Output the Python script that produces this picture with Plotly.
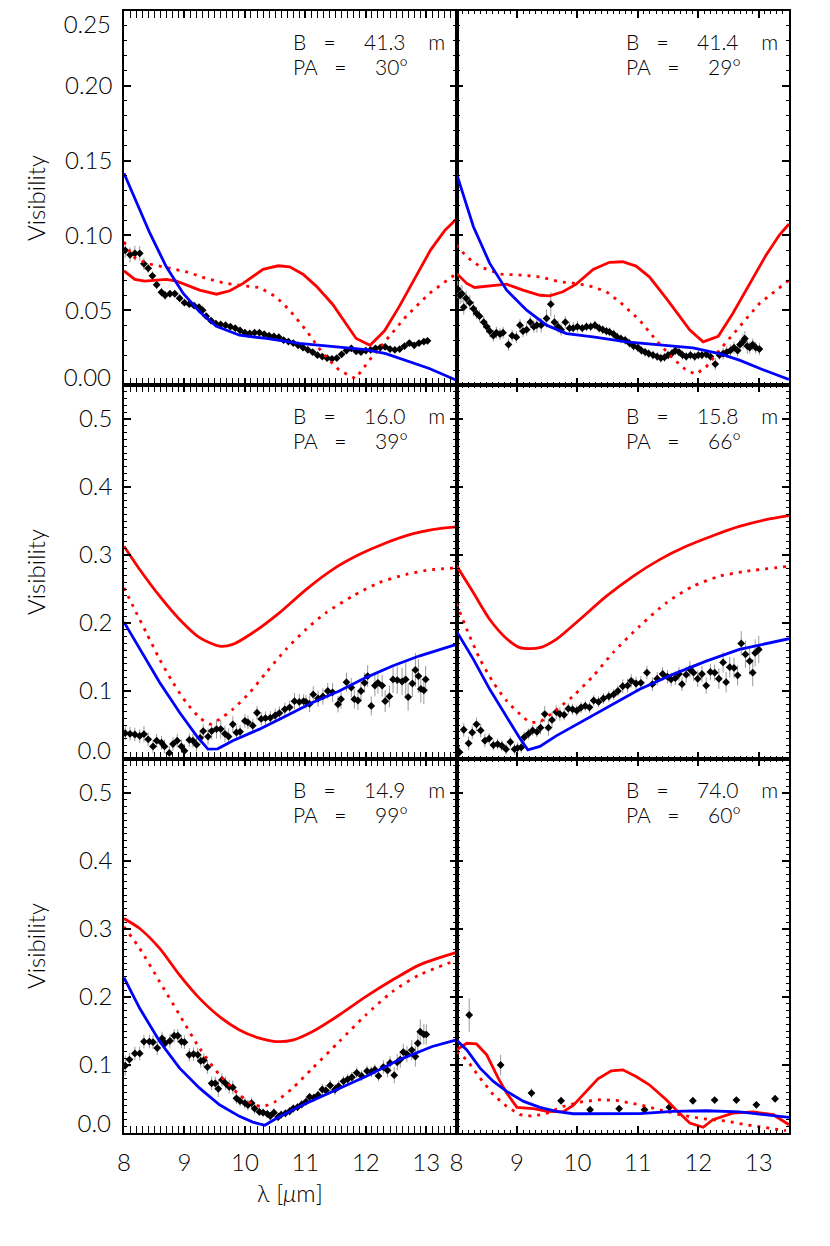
import plotly.graph_objects as go
from plotly.subplots import make_subplots

# ---- model curves (lambda [um], visibility) ----
tl_red = [(8.0, 0.0763), (8.18, 0.0706), (8.34, 0.0694), (8.70, 0.0706), (8.87, 0.0694), (9.25, 0.0634),
          (9.53, 0.0607), (9.75, 0.063), (9.97, 0.0679), (10.3, 0.0773), (10.55, 0.0797), (10.74, 0.079),
          (10.96, 0.0741), (11.18, 0.0661), (11.45, 0.054), (11.84, 0.0311), (12.07, 0.0266), (12.31, 0.0362),
          (12.55, 0.0522), (12.82, 0.0723), (13.07, 0.0902), (13.31, 0.1035), (13.5, 0.111)]
tl_dot = [(8.0, 0.0957), (8.15, 0.0857), (8.37, 0.0813), (8.70, 0.0786), (9.03, 0.0757), (9.36, 0.0712),
          (9.69, 0.0679), (10.02, 0.0661), (10.24, 0.0652), (10.51, 0.059), (10.74, 0.050), (11.01, 0.0367),
          (11.29, 0.021), (11.56, 0.0099), (11.83, 0.0043), (12.06, 0.0166), (12.33, 0.030), (12.66, 0.0456),
          (13.05, 0.0612), (13.5, 0.0746)]
tl_blue = [(8.0, 0.1415), (8.21, 0.1214), (8.43, 0.1013), (8.70, 0.079), (8.98, 0.0612), (9.25, 0.0489),
           (9.53, 0.0393), (9.91, 0.0333), (10.35, 0.0311), (10.90, 0.0278), (11.45, 0.0255), (12.0, 0.0237),
           (12.33, 0.021), (12.66, 0.0166), (13.05, 0.011), (13.5, 0.0032)]

tr_red = [(8.0, 0.0746), (8.17, 0.0679), (8.30, 0.0652), (8.55, 0.066), (8.83, 0.0674), (9.10, 0.0634),
          (9.38, 0.060), (9.54, 0.0596), (9.76, 0.0623), (9.98, 0.0674), (10.26, 0.0773), (10.53, 0.082),
          (10.75, 0.0824), (10.97, 0.0795), (11.19, 0.0723), (11.47, 0.0579), (11.69, 0.0456), (11.86, 0.0367),
          (12.08, 0.0288), (12.33, 0.0326), (12.57, 0.0478), (12.85, 0.0679), (13.12, 0.0868), (13.34, 0.1002),
          (13.5, 0.1076)]
tr_dot = [(8.0, 0.0935), (8.17, 0.0857), (8.39, 0.079), (8.72, 0.0741), (9.05, 0.0735), (9.38, 0.0723),
          (9.71, 0.069), (9.98, 0.0679), (10.26, 0.0656), (10.48, 0.0623), (10.70, 0.0556), (11.03, 0.0433),
          (11.30, 0.030), (11.58, 0.0177), (11.80, 0.0099), (11.96, 0.0072), (12.13, 0.0121), (12.35, 0.0233),
          (12.68, 0.0389), (13.01, 0.0545), (13.5, 0.070)]
tr_blue = [(8.0, 0.1415), (8.28, 0.1058), (8.55, 0.0813), (8.83, 0.0634), (9.16, 0.050), (9.49, 0.040),
           (9.82, 0.0344), (10.26, 0.0322), (10.81, 0.0288), (11.47, 0.0266), (11.91, 0.0248), (12.35, 0.021),
           (12.68, 0.0166), (13.06, 0.0104), (13.5, 0.0037)]

ml_red = [(8.0, 0.3128), (8.26, 0.2786), (8.59, 0.2394), (8.92, 0.2052), (9.25, 0.1784), (9.58, 0.166),
          (9.80, 0.1686), (10.13, 0.1857), (10.57, 0.215), (11.01, 0.2492), (11.45, 0.2786), (11.89, 0.3006),
          (12.33, 0.3177), (12.77, 0.331), (13.10, 0.3373), (13.5, 0.3412)]
ml_dot = [(8.0, 0.2517), (8.15, 0.2247), (8.37, 0.1857), (8.59, 0.1465), (8.81, 0.1124), (9.03, 0.083),
          (9.25, 0.061), (9.42, 0.0512), (9.58, 0.0585), (9.80, 0.0732), (10.08, 0.0977), (10.35, 0.127),
          (10.68, 0.1612), (11.01, 0.1906), (11.34, 0.215), (11.78, 0.2394), (12.21, 0.259), (12.66, 0.2712),
          (13.10, 0.2786), (13.5, 0.281)]
ml_blue = [(8.0, 0.2013), (8.26, 0.1612), (8.59, 0.1124), (8.92, 0.0684), (9.20, 0.034), (9.39, 0.0145),
           (9.55, 0.015), (9.80, 0.0267), (10.24, 0.0439), (10.68, 0.0634), (11.12, 0.083), (11.56, 0.1001),
           (12.0, 0.1197), (12.44, 0.1368), (12.88, 0.1514), (13.5, 0.1686)]

mr_red = [(8.0, 0.2844), (8.28, 0.2444), (8.55, 0.2052), (8.83, 0.1769), (9.05, 0.1637), (9.21, 0.1623),
          (9.38, 0.1637), (9.65, 0.1759), (10.04, 0.2052), (10.48, 0.2394), (10.92, 0.2687), (11.36, 0.2932),
          (11.80, 0.3128), (12.24, 0.3284), (12.68, 0.342), (13.12, 0.3519), (13.5, 0.3578)]
mr_dot = [(8.0, 0.2287), (8.17, 0.1906), (8.39, 0.1465), (8.61, 0.1124), (8.83, 0.0854), (9.05, 0.0659),
          (9.21, 0.0546), (9.38, 0.055), (9.59, 0.068), (9.93, 0.0927), (10.26, 0.122), (10.59, 0.1564),
          (11.03, 0.1954), (11.47, 0.2297), (11.91, 0.254), (12.35, 0.2687), (12.79, 0.276), (13.5, 0.2834)]
mr_blue = [(8.0, 0.188), (8.28, 0.1465), (8.55, 0.1025), (8.83, 0.061), (9.05, 0.030), (9.18, 0.0135),
           (9.38, 0.0185), (9.65, 0.034), (10.04, 0.0537), (10.48, 0.0757), (11.03, 0.1025), (11.58, 0.1245),
           (12.13, 0.144), (12.68, 0.1612), (13.5, 0.1769)]

bl_red = [(8.0, 0.3154), (8.26, 0.3007), (8.59, 0.2714), (8.92, 0.2322), (9.25, 0.198), (9.58, 0.1712),
          (9.91, 0.1516), (10.24, 0.1394), (10.51, 0.1345), (10.79, 0.1365), (11.12, 0.1492), (11.56, 0.1735),
          (12.0, 0.2005), (12.44, 0.2249), (12.88, 0.2469), (13.5, 0.2655)]
bl_dot = [(8.0, 0.3032), (8.26, 0.2714), (8.59, 0.2225), (8.92, 0.1735), (9.25, 0.1247), (9.58, 0.0855),
          (9.91, 0.0562), (10.13, 0.0425), (10.29, 0.039), (10.51, 0.0465), (10.79, 0.066), (11.12, 0.0954),
          (11.56, 0.1345), (12.0, 0.1735), (12.44, 0.2079), (12.88, 0.2322), (13.5, 0.2542)]
bl_blue = [(8.0, 0.2284), (8.26, 0.1834), (8.59, 0.1345), (8.92, 0.0954), (9.25, 0.066), (9.58, 0.0415),
           (9.91, 0.0245), (10.13, 0.016), (10.33, 0.0113), (10.51, 0.021), (10.90, 0.039), (11.45, 0.0611),
           (12.0, 0.0831), (12.55, 0.1076), (13.10, 0.1272), (13.5, 0.1369)]

br_red = [(8.0, 0.1222), (8.17, 0.132), (8.33, 0.131), (8.5, 0.1149), (8.69, 0.0807), (8.83, 0.0587),
          (9.0, 0.0377), (9.27, 0.0357), (9.5, 0.0318), (9.76, 0.031), (9.93, 0.0406), (10.15, 0.0611),
          (10.34, 0.0797), (10.56, 0.0914), (10.75, 0.0929), (10.97, 0.0831), (11.19, 0.0709), (11.47, 0.0489),
          (11.63, 0.0342), (11.86, 0.0147), (12.08, 0.0084), (12.24, 0.0195), (12.57, 0.0293), (12.90, 0.031),
          (13.24, 0.0269), (13.5, 0.0122)]
br_dot = [(8.0, 0.120), (8.17, 0.1076), (8.39, 0.0807), (8.61, 0.0562), (8.83, 0.039), (9.05, 0.0269),
          (9.27, 0.0245), (9.5, 0.0293), (9.76, 0.039), (10.04, 0.0455), (10.37, 0.0489), (10.64, 0.048),
          (11.03, 0.0415), (11.36, 0.0342), (11.69, 0.0269), (12.08, 0.021), (12.46, 0.0176), (12.79, 0.0122),
          (13.18, 0.0073), (13.45, 0.0034)]
br_blue = [(8.0, 0.1369), (8.17, 0.1222), (8.39, 0.0954), (8.61, 0.0758), (8.83, 0.0611), (9.11, 0.0465),
           (9.38, 0.0377), (9.65, 0.0318), (9.93, 0.0283), (10.48, 0.028), (11.03, 0.0284), (11.58, 0.0318),
           (12.13, 0.0327), (12.68, 0.031), (13.12, 0.0269), (13.5, 0.023)]

# ---- measured visibilities (lambda, V, error) ----
tl_obs = [(8.02, 0.090, 0.005), (8.10, 0.087, 0.005), (8.18, 0.088, 0.005), (8.26, 0.088, 0.005),
          (8.33, 0.081, 0.004), (8.40, 0.078, 0.003), (8.47, 0.073, 0.003), (8.54, 0.067, 0.003),
          (8.62, 0.062, 0.003), (8.68, 0.060, 0.003), (8.76, 0.061, 0.002), (8.84, 0.061, 0.002),
          (8.92, 0.058, 0.002), (9.00, 0.055, 0.002), (9.08, 0.054, 0.002), (9.16, 0.053, 0.002),
          (9.24, 0.052, 0.002), (9.30, 0.050, 0.002), (9.36, 0.046, 0.002), (9.44, 0.043, 0.002),
          (9.52, 0.041, 0.002), (9.60, 0.0405, 0.002), (9.68, 0.040, 0.002), (9.76, 0.039, 0.002),
          (9.84, 0.038, 0.002), (9.92, 0.0365, 0.002), (10.00, 0.035, 0.002), (10.08, 0.0345, 0.002),
          (10.16, 0.035, 0.002), (10.24, 0.035, 0.002), (10.32, 0.034, 0.002), (10.40, 0.033, 0.002),
          (10.48, 0.0325, 0.002), (10.56, 0.032, 0.002), (10.64, 0.030, 0.002), (10.72, 0.029, 0.002),
          (10.80, 0.028, 0.002), (10.88, 0.0265, 0.002), (10.96, 0.025, 0.002), (11.04, 0.0235, 0.002),
          (11.12, 0.022, 0.002), (11.20, 0.020, 0.002), (11.28, 0.019, 0.002), (11.36, 0.018, 0.002),
          (11.44, 0.0175, 0.002), (11.52, 0.018, 0.002), (11.60, 0.0205, 0.002), (11.68, 0.023, 0.002),
          (11.76, 0.0245, 0.002), (11.84, 0.0225, 0.002), (11.92, 0.022, 0.002), (12.00, 0.023, 0.002),
          (12.08, 0.0235, 0.002), (12.16, 0.0245, 0.002), (12.24, 0.025, 0.002), (12.32, 0.0255, 0.002),
          (12.40, 0.024, 0.002), (12.48, 0.0235, 0.002), (12.56, 0.024, 0.002), (12.64, 0.026, 0.002),
          (12.72, 0.028, 0.002), (12.80, 0.0265, 0.002), (12.88, 0.028, 0.002), (12.96, 0.029, 0.002),
          (13.02, 0.0295, 0.002)]

tr_obs = [(8.02, 0.064, 0.006), (8.06, 0.060, 0.006), (8.09, 0.061, 0.006), (8.12, 0.052, 0.005),
          (8.16, 0.058, 0.005), (8.22, 0.055, 0.005), (8.28, 0.051, 0.005), (8.33, 0.048, 0.004),
          (8.38, 0.046, 0.004), (8.45, 0.042, 0.004), (8.50, 0.039, 0.004), (8.55, 0.036, 0.004),
          (8.61, 0.033, 0.004), (8.66, 0.035, 0.004), (8.72, 0.034, 0.004), (8.77, 0.035, 0.004),
          (8.86, 0.027, 0.004), (8.92, 0.033, 0.004), (8.99, 0.032, 0.004), (9.05, 0.040, 0.004),
          (9.10, 0.036, 0.004), (9.16, 0.037, 0.004), (9.22, 0.042, 0.004), (9.28, 0.039, 0.004),
          (9.33, 0.040, 0.005), (9.40, 0.040, 0.005), (9.49, 0.0445, 0.006), (9.56, 0.054, 0.008),
          (9.62, 0.042, 0.005), (9.68, 0.039, 0.004), (9.73, 0.037, 0.004), (9.80, 0.042, 0.004),
          (9.87, 0.038, 0.004), (9.93, 0.038, 0.004), (10.00, 0.039, 0.004), (10.08, 0.038, 0.003),
          (10.15, 0.039, 0.003), (10.22, 0.039, 0.003), (10.29, 0.040, 0.003), (10.36, 0.038, 0.003),
          (10.42, 0.037, 0.003), (10.48, 0.036, 0.003), (10.53, 0.0355, 0.003), (10.60, 0.034, 0.003),
          (10.66, 0.032, 0.003), (10.72, 0.031, 0.003), (10.79, 0.030, 0.003), (10.86, 0.028, 0.003),
          (10.93, 0.026, 0.003), (11.00, 0.025, 0.003), (11.06, 0.023, 0.003), (11.12, 0.022, 0.003),
          (11.18, 0.021, 0.003), (11.25, 0.020, 0.003), (11.32, 0.019, 0.003), (11.38, 0.018, 0.003),
          (11.44, 0.0185, 0.003), (11.50, 0.020, 0.003), (11.56, 0.021, 0.003), (11.62, 0.023, 0.003),
          (11.68, 0.022, 0.003), (11.74, 0.020, 0.003), (11.80, 0.019, 0.003), (11.87, 0.020, 0.003),
          (11.94, 0.019, 0.003), (12.00, 0.020, 0.003), (12.06, 0.020, 0.003), (12.13, 0.0205, 0.003),
          (12.20, 0.019, 0.003), (12.28, 0.014, 0.004), (12.35, 0.020, 0.003), (12.41, 0.021, 0.004),
          (12.47, 0.022, 0.004), (12.53, 0.023, 0.004), (12.59, 0.025, 0.004), (12.65, 0.023, 0.004),
          (12.69, 0.027, 0.004), (12.74, 0.029, 0.005), (12.77, 0.031, 0.005), (12.81, 0.026, 0.005),
          (12.85, 0.025, 0.004), (12.90, 0.027, 0.004), (12.95, 0.025, 0.004), (13.01, 0.024, 0.004)]

ml_obs = [(8.02, 0.038, 0.01), (8.10, 0.037, 0.01), (8.18, 0.036, 0.01), (8.26, 0.034, 0.01),
          (8.33, 0.0365, 0.012), (8.40, 0.029, 0.01), (8.48, 0.0185, 0.01), (8.54, 0.027, 0.01),
          (8.62, 0.024, 0.01), (8.67, 0.0185, 0.01), (8.75, 0.009, 0.01), (8.81, 0.022, 0.01),
          (8.88, 0.027, 0.01), (8.95, 0.0185, 0.01), (9.00, 0.012, 0.01), (9.08, 0.028, 0.01),
          (9.14, 0.027, 0.01), (9.20, 0.021, 0.01), (9.26, 0.031, 0.01), (9.31, 0.041, 0.01),
          (9.39, 0.033, 0.012), (9.45, 0.041, 0.012), (9.53, 0.044, 0.014), (9.60, 0.044, 0.014),
          (9.67, 0.037, 0.012), (9.73, 0.033, 0.012), (9.80, 0.051, 0.012), (9.86, 0.039, 0.01),
          (9.92, 0.040, 0.01), (10.00, 0.056, 0.01), (10.05, 0.054, 0.01), (10.13, 0.049, 0.01),
          (10.20, 0.068, 0.01), (10.27, 0.059, 0.01), (10.34, 0.060, 0.01), (10.42, 0.0606, 0.01),
          (10.50, 0.064, 0.01), (10.57, 0.0675, 0.01), (10.66, 0.073, 0.01), (10.74, 0.076, 0.01),
          (10.82, 0.085, 0.012), (10.90, 0.084, 0.012), (10.97, 0.085, 0.01), (11.01, 0.084, 0.01),
          (11.07, 0.081, 0.012), (11.13, 0.095, 0.012), (11.21, 0.089, 0.012), (11.29, 0.092, 0.012),
          (11.37, 0.100, 0.012), (11.45, 0.098, 0.014), (11.54, 0.0805, 0.012), (11.59, 0.088, 0.014),
          (11.68, 0.113, 0.014), (11.76, 0.105, 0.014), (11.81, 0.088, 0.014), (11.87, 0.086, 0.014),
          (11.92, 0.100, 0.015), (11.98, 0.112, 0.015), (12.03, 0.122, 0.016), (12.09, 0.078, 0.014),
          (12.15, 0.108, 0.016), (12.20, 0.112, 0.016), (12.27, 0.108, 0.016), (12.32, 0.085, 0.016),
          (12.39, 0.092, 0.016), (12.45, 0.117, 0.02), (12.52, 0.116, 0.02), (12.60, 0.114, 0.02),
          (12.66, 0.117, 0.025), (12.70, 0.091, 0.02), (12.77, 0.111, 0.02), (12.82, 0.131, 0.025),
          (12.87, 0.122, 0.025), (12.91, 0.103, 0.02), (12.96, 0.101, 0.02), (12.99, 0.117, 0.02)]

mr_obs = [(8.05, 0.010, 0.01), (8.12, 0.043, 0.01), (8.20, 0.023, 0.01), (8.26, 0.039, 0.01),
          (8.33, 0.051, 0.01), (8.40, 0.042, 0.01), (8.47, 0.027, 0.01), (8.54, 0.030, 0.008),
          (8.61, 0.0205, 0.008), (8.68, 0.022, 0.008), (8.75, 0.0195, 0.008), (8.82, 0.0145, 0.008),
          (8.89, 0.025, 0.008), (8.96, 0.0145, 0.008), (9.01, 0.016, 0.008), (9.07, 0.017, 0.008),
          (9.12, 0.032, 0.008), (9.19, 0.037, 0.008), (9.26, 0.042, 0.008), (9.33, 0.040, 0.008),
          (9.39, 0.046, 0.01), (9.46, 0.066, 0.012), (9.52, 0.046, 0.012), (9.58, 0.0575, 0.012),
          (9.65, 0.069, 0.01), (9.71, 0.066, 0.01), (9.78, 0.065, 0.008), (9.85, 0.074, 0.008),
          (9.92, 0.073, 0.008), (9.99, 0.071, 0.008), (10.06, 0.0757, 0.008), (10.13, 0.078, 0.008),
          (10.20, 0.076, 0.008), (10.27, 0.086, 0.008), (10.35, 0.084, 0.008), (10.43, 0.089, 0.008),
          (10.52, 0.092, 0.008), (10.60, 0.095, 0.008), (10.67, 0.100, 0.008), (10.75, 0.107, 0.01),
          (10.83, 0.108, 0.01), (10.89, 0.115, 0.01), (10.97, 0.111, 0.01), (11.05, 0.112, 0.01),
          (11.15, 0.127, 0.01), (11.24, 0.110, 0.01), (11.32, 0.118, 0.01), (11.41, 0.125, 0.01),
          (11.49, 0.121, 0.01), (11.55, 0.117, 0.01), (11.62, 0.119, 0.01), (11.68, 0.125, 0.01),
          (11.73, 0.110, 0.01), (11.80, 0.124, 0.012), (11.86, 0.132, 0.012), (11.92, 0.127, 0.012),
          (11.99, 0.118, 0.012), (12.06, 0.125, 0.012), (12.13, 0.108, 0.012), (12.20, 0.128, 0.012),
          (12.27, 0.127, 0.012), (12.34, 0.118, 0.015), (12.41, 0.142, 0.015), (12.46, 0.113, 0.015),
          (12.52, 0.135, 0.015), (12.59, 0.134, 0.015), (12.65, 0.123, 0.015), (12.71, 0.170, 0.018),
          (12.78, 0.154, 0.02), (12.85, 0.144, 0.02), (12.90, 0.127, 0.02), (12.94, 0.156, 0.02),
          (13.00, 0.161, 0.02)]

bl_obs = [(8.02, 0.099, 0.015), (8.09, 0.108, 0.01), (8.18, 0.117, 0.01), (8.26, 0.117, 0.01),
          (8.33, 0.1345, 0.01), (8.42, 0.1345, 0.01), (8.48, 0.1335, 0.01), (8.55, 0.125, 0.01),
          (8.63, 0.139, 0.01), (8.68, 0.132, 0.01), (8.76, 0.1355, 0.01), (8.83, 0.143, 0.01),
          (8.89, 0.143, 0.01), (8.95, 0.1345, 0.01), (9.00, 0.1335, 0.01), (9.08, 0.115, 0.01),
          (9.15, 0.116, 0.01), (9.22, 0.115, 0.01), (9.27, 0.106, 0.01), (9.32, 0.107, 0.01),
          (9.38, 0.097, 0.01), (9.45, 0.073, 0.01), (9.51, 0.073, 0.01), (9.56, 0.065, 0.012),
          (9.62, 0.078, 0.01), (9.68, 0.073, 0.01), (9.74, 0.068, 0.01), (9.80, 0.067, 0.01),
          (9.86, 0.051, 0.008), (9.92, 0.047, 0.008), (10.00, 0.044, 0.008), (10.05, 0.041, 0.008),
          (10.11, 0.044, 0.008), (10.16, 0.036, 0.008), (10.24, 0.031, 0.006), (10.30, 0.030, 0.006),
          (10.37, 0.028, 0.006), (10.42, 0.025, 0.006), (10.48, 0.030, 0.006), (10.55, 0.0235, 0.006),
          (10.60, 0.027, 0.006), (10.67, 0.029, 0.006), (10.74, 0.032, 0.006), (10.80, 0.036, 0.006),
          (10.87, 0.038, 0.006), (10.94, 0.042, 0.006), (11.01, 0.046, 0.006), (11.07, 0.053, 0.006),
          (11.14, 0.052, 0.006), (11.21, 0.056, 0.006), (11.28, 0.064, 0.008), (11.34, 0.0625, 0.008),
          (11.41, 0.070, 0.008), (11.49, 0.064, 0.008), (11.55, 0.069, 0.008), (11.63, 0.076, 0.008),
          (11.70, 0.079, 0.008), (11.77, 0.082, 0.008), (11.85, 0.0885, 0.008), (11.93, 0.084, 0.008),
          (12.02, 0.091, 0.008), (12.09, 0.090, 0.008), (12.15, 0.093, 0.008), (12.21, 0.084, 0.008),
          (12.29, 0.097, 0.01), (12.36, 0.092, 0.01), (12.40, 0.103, 0.01), (12.47, 0.085, 0.012),
          (12.52, 0.104, 0.012), (12.57, 0.108, 0.012), (12.62, 0.119, 0.012), (12.68, 0.116, 0.012),
          (12.76, 0.122, 0.015), (12.82, 0.1125, 0.015), (12.86, 0.132, 0.015), (12.90, 0.149, 0.018),
          (12.96, 0.145, 0.015), (13.00, 0.145, 0.015)]

br_obs = [(8.21, 0.1735, 0.0245), (8.73, 0.100, 0.015), (9.24, 0.0587, 0.007), (9.73, 0.0474, 0.005),
          (10.21, 0.0342, 0.003), (10.69, 0.0357, 0.003), (11.11, 0.0342, 0.003), (11.52, 0.0377, 0.003),
          (11.91, 0.0474, 0.003), (12.27, 0.0484, 0.003), (12.63, 0.0484, 0.003), (12.96, 0.0415, 0.003),
          (13.27, 0.0504, 0.004)]

baselines = ["41.3", "41.4", "16.0", "15.8", "14.9", "74.0"]
pos_angles = ["30", "29", "39", "66", "99", "60"]

top_ticks = [0, 0.05, 0.1, 0.15, 0.2, 0.25]
top_labels = ["0.00", "0.05", "0.10", "0.15", "0.20", "0.25"]
low_ticks = [0, 0.1, 0.2, 0.3, 0.4, 0.5]
low_labels = ["0.0", "0.1", "0.2", "0.3", "0.4", "0.5"]

# (row, col, solid red, dotted red, blue, data, smooth model curves?)
panels = [
    (1, 1, tl_red, tl_dot, tl_blue, tl_obs, False),
    (1, 2, tr_red, tr_dot, tr_blue, tr_obs, False),
    (2, 1, ml_red, ml_dot, ml_blue, ml_obs, True),
    (2, 2, mr_red, mr_dot, mr_blue, mr_obs, True),
    (3, 1, bl_red, bl_dot, bl_blue, bl_obs, True),
    (3, 2, br_red, br_dot, br_blue, br_obs, False),
]

FONT = "Lato"
RED = "#ff0000"
BLUE = "#0000ff"
SP = "\u00a0"
# the page body has an 8px margin, so the figure margins are pulled in by 8
PW, PH = 665, 1122

fig = make_subplots(rows=3, cols=2, horizontal_spacing=0, vertical_spacing=0)

txt_font = dict(family=FONT, size=21, color="black", weight=300)

for k, (r, c, red, dot, blue, obs, smooth) in enumerate(panels):
    ox, oy, oe = zip(*obs)
    fig.add_trace(go.Scatter(x=list(ox), y=list(oy), mode="markers",
                             marker=dict(symbol="diamond", size=6, color="black"),
                             error_y=dict(type="data", array=list(oe), color="#9a9a9a",
                                          thickness=1, width=0),
                             showlegend=False), row=r, col=c)
    for curve, col, dash in [(dot, RED, "3px,6px"), (red, RED, "solid"), (blue, BLUE, "solid")]:
        cx, cy = zip(*curve)
        shape = "spline" if (smooth and col == RED) else "linear"
        fig.add_trace(go.Scatter(x=list(cx), y=list(cy), mode="lines",
                                 line=dict(color=col, width=2.8, dash=dash, shape=shape, smoothing=0.7),
                                 showlegend=False), row=r, col=c)

    fig.update_xaxes(range=[8, 13.5], tickvals=[8, 9, 10, 11, 12, 13],
                     showticklabels=(r == 3), row=r, col=c)
    ticks, labels = (top_ticks, top_labels) if r == 1 else (low_ticks, low_labels)
    fig.update_yaxes(range=[0, ticks[-1] if r == 1 else 0.55], tickvals=ticks,
                     ticktext=[""] + labels[1:-1] + ([""] if r == 1 else labels[-1:]),
                     showticklabels=(c == 1), row=r, col=c)

    n = k + 1
    xd = "x domain" if n == 1 else f"x{n} domain"
    yd = "y domain" if n == 1 else f"y{n} domain"
    fig.add_annotation(text="B" + SP * 3 + "=" + SP * 5 + baselines[k] + SP * 4 + "m",
                       xref=xd, yref=yd, x=0.503, y=1 - 30 / 374, xanchor="left", yanchor="middle",
                       showarrow=False, font=txt_font)
    fig.add_annotation(text="PA" + SP * 3 + "=" + SP * 5 + pos_angles[k] + "°",
                       xref=xd, yref=yd, x=0.503, y=1 - 55 / 374, xanchor="left", yanchor="middle",
                       showarrow=False, font=txt_font)
    if c == 1:
        fig.add_annotation(text="Visibility", xref="paper", yref=yd, x=-89 / PW, y=0.5,
                           xanchor="center", yanchor="middle", textangle=-90, showarrow=False,
                           font=dict(family=FONT, size=24, color="black", weight=300))

fig.add_annotation(text="λ [<i>μ</i>m]", xref="x5 domain", yref="paper", x=0.5, y=-59 / PH,
                   xanchor="center", yanchor="middle", showarrow=False,
                   font=dict(family=FONT, size=24, color="black", weight=300))

axis_style = dict(showline=True, linecolor="black", linewidth=1.6, mirror="allticks",
                  ticks="inside", ticklen=7, tickwidth=1.5, tickcolor="black",
                  showgrid=False, zeroline=False, automargin=False,
                  tickfont=dict(family=FONT, size=24, color="black", weight=300),
                  minor=dict(ticks="inside", ticklen=3.5, tickwidth=1.2, tickcolor="black", showgrid=False))
fig.update_xaxes(**axis_style, ticklabelstandoff=7)
fig.update_xaxes(minor_dtick=0.1)
fig.update_yaxes(**axis_style, ticklabelstandoff=5)
fig.update_yaxes(minor_dtick=0.01)

# end labels of the left axes sit a little inside the frame, as in the original
end_labels = [
    ("x", "y", [0, 0.25], 0.25, "0.25", 14),
    ("x", "y", [0, 0.25], 0.0, "0.00", -7),
    ("x3", "y3", [0, 0.55], 0.0, "0.0", -8),
    ("x5", "y5", [0, 0.55], 0.0, "0.0", -9),
]
for i, (xa, ya, rng, val, lab, shift) in enumerate(end_labels):
    name = f"yaxis{7 + i}"
    fig.update_layout({name: dict(overlaying=ya, anchor=xa, side="left", range=rng,
                                  tickvals=[val], ticktext=[lab], ticks="", showline=False,
                                  showgrid=False, zeroline=False, automargin=False,
                                  ticklabelshift=shift, ticklabelstandoff=12,
                                  ticklabeloverflow="allow",
                                  tickfont=dict(family=FONT, size=24, color="black", weight=300))})
    fig.add_trace(go.Scatter(x=[], y=[], xaxis=xa, yaxis=f"y{7 + i}", showlegend=False))

fig.update_layout(width=830, height=1246, plot_bgcolor="white", paper_bgcolor="white",
                  margin=dict(l=116, r=49, t=3, b=121), showlegend=False,
                  font=dict(family=FONT, color="black"))

fig.write_html("out.html")
